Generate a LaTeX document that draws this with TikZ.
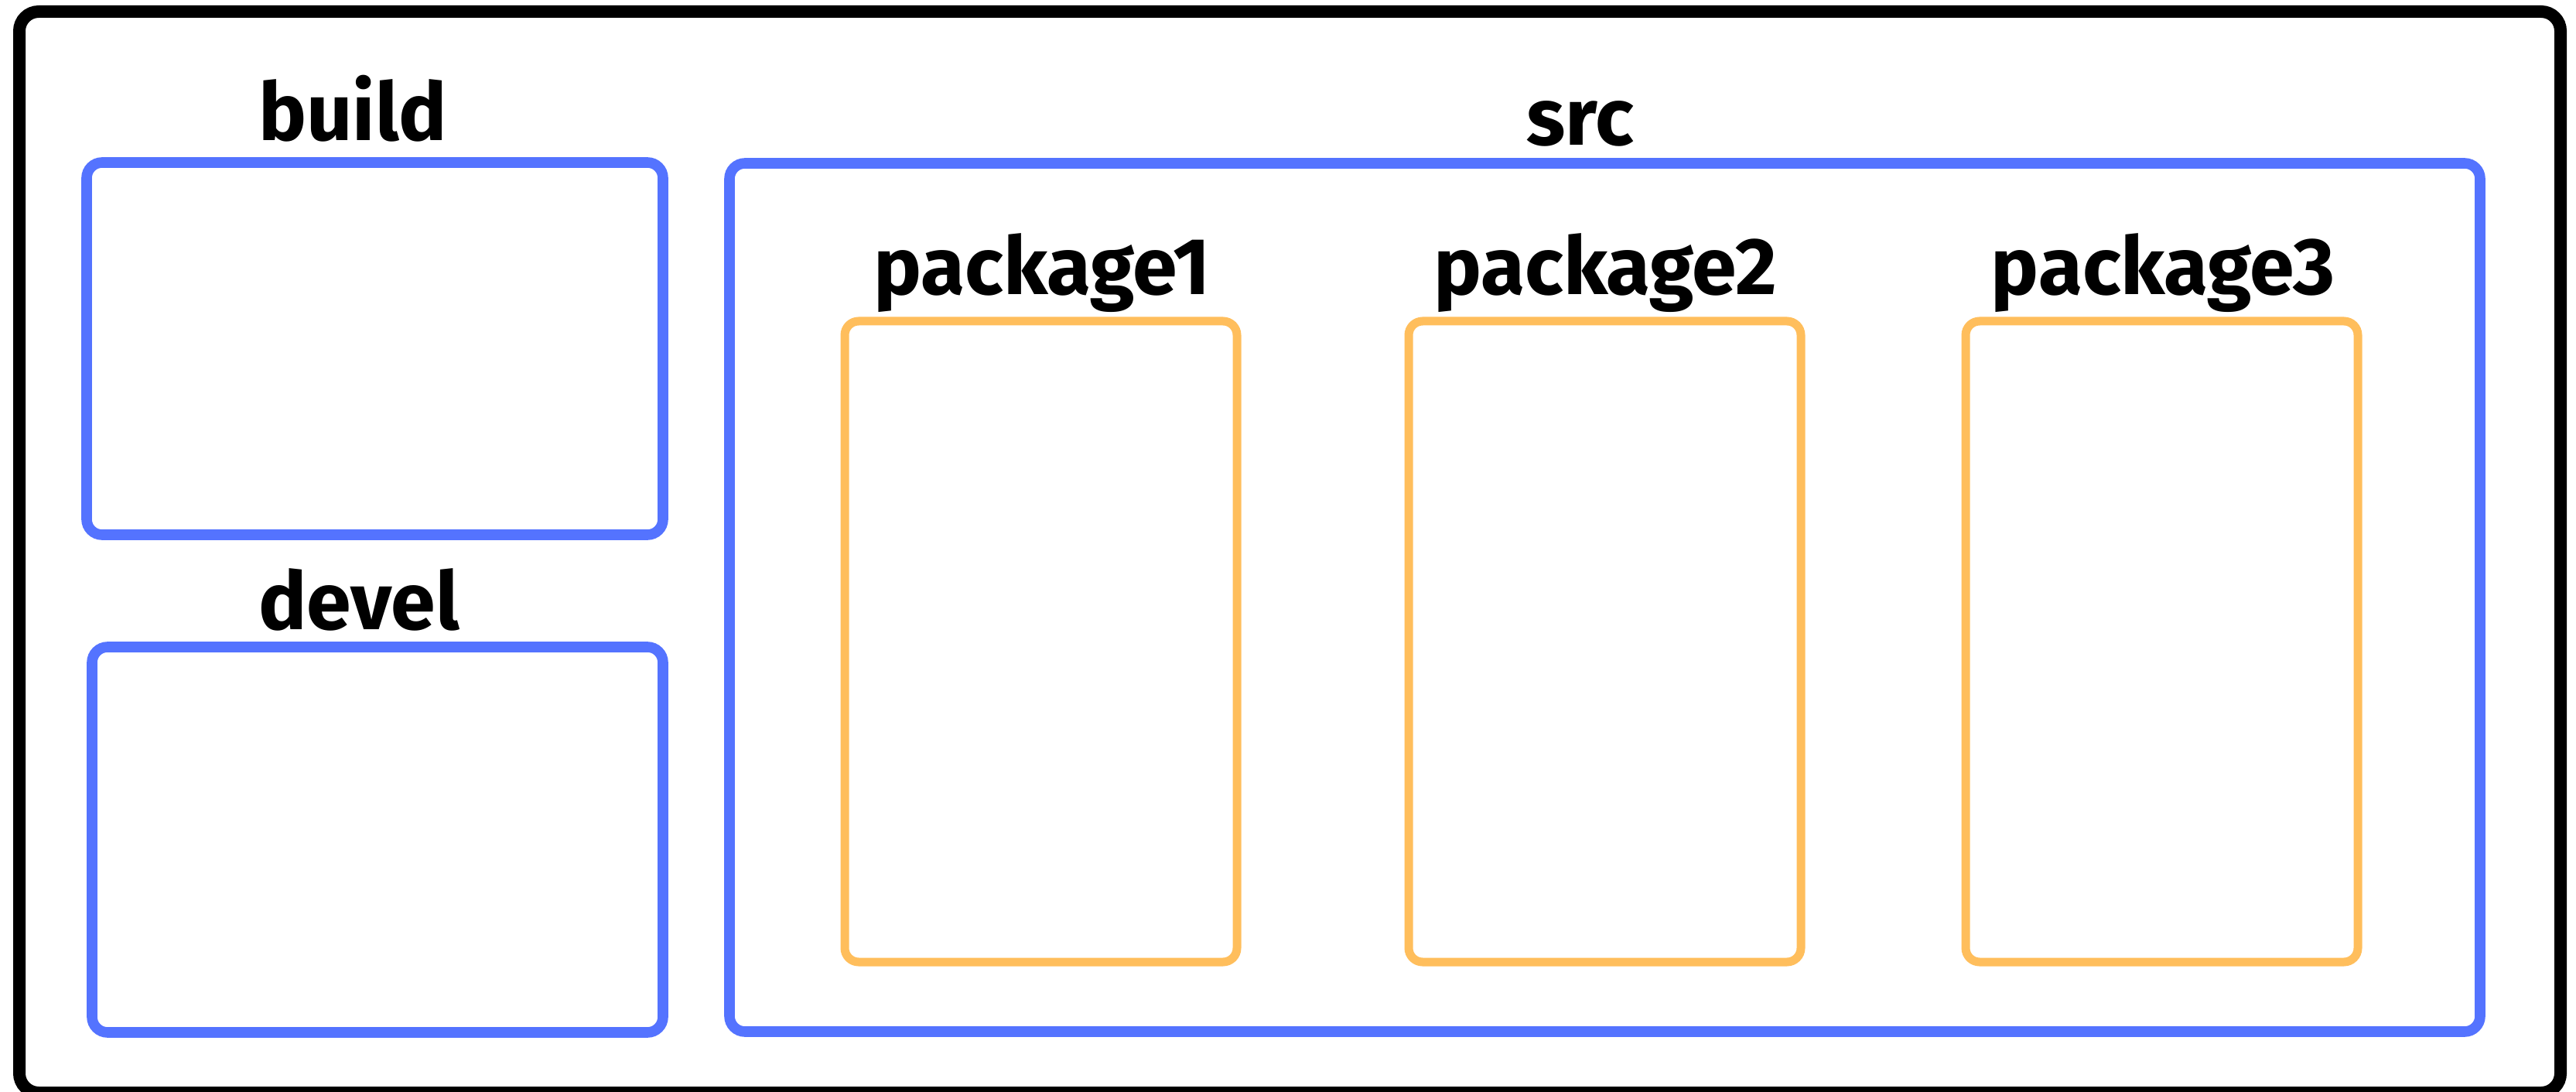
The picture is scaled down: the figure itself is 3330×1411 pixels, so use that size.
\documentclass[tikz,border=0pt]{standalone}
\usepackage{fontspec}
\setmainfont{Fira Sans}
\definecolor{boxblue}{HTML}{5473FF}
\definecolor{boxorange}{HTML}{FFBE5C}
\begin{document}
\begin{tikzpicture}[x=0.25pt,y=-0.25pt,
  framebox/.style={draw=black,line width=4pt,rounded corners=6.25pt,inner sep=0pt,outer sep=0pt,anchor=north west},
  bluebox/.style={draw=boxblue,line width=3.4pt,rounded corners=5pt,inner sep=0pt,outer sep=0pt,anchor=north west},
  orangebox/.style={draw=boxorange,line width=2.75pt,rounded corners=4.5pt,inner sep=0pt,outer sep=0pt,anchor=north west,minimum width=126.75pt,minimum height=207pt},
  lbl/.style={font=\bfseries\fontsize{26}{30}\selectfont,anchor=base,inner sep=0pt}]
\useasboundingbox (0,0) rectangle (3330,1411);
\node[framebox,minimum width=821.25pt,minimum height=349.25pt] (frame) at (25,15) {};
\node[bluebox,minimum width=186.25pt,minimum height=120.25pt] (build) at (112,210) {};
\node[bluebox,minimum width=184.5pt,minimum height=124.5pt] (devel) at (119,836) {};
\node[bluebox,minimum width=565.75pt,minimum height=280.5pt] (src) at (943,211) {};
\node[orangebox] (pkg1) at (1092,415) {};
\node[orangebox] (pkg2) at (1821,415) {};
\node[orangebox] (pkg3) at (2541,415) {};
\node[lbl] (buildlbl) at (456,182) {build};
\node[lbl] (devellbl) at (464,813) {devel};
\node[lbl] (srclbl) at (2043,188) {src};
\node[lbl] (pkg1lbl) at (1347,381) {package1};
\node[lbl] (pkg2lbl) at (2075,381) {package2};
\node[lbl] (pkg3lbl) at (2796,381) {package3};
\end{tikzpicture}
\end{document}
